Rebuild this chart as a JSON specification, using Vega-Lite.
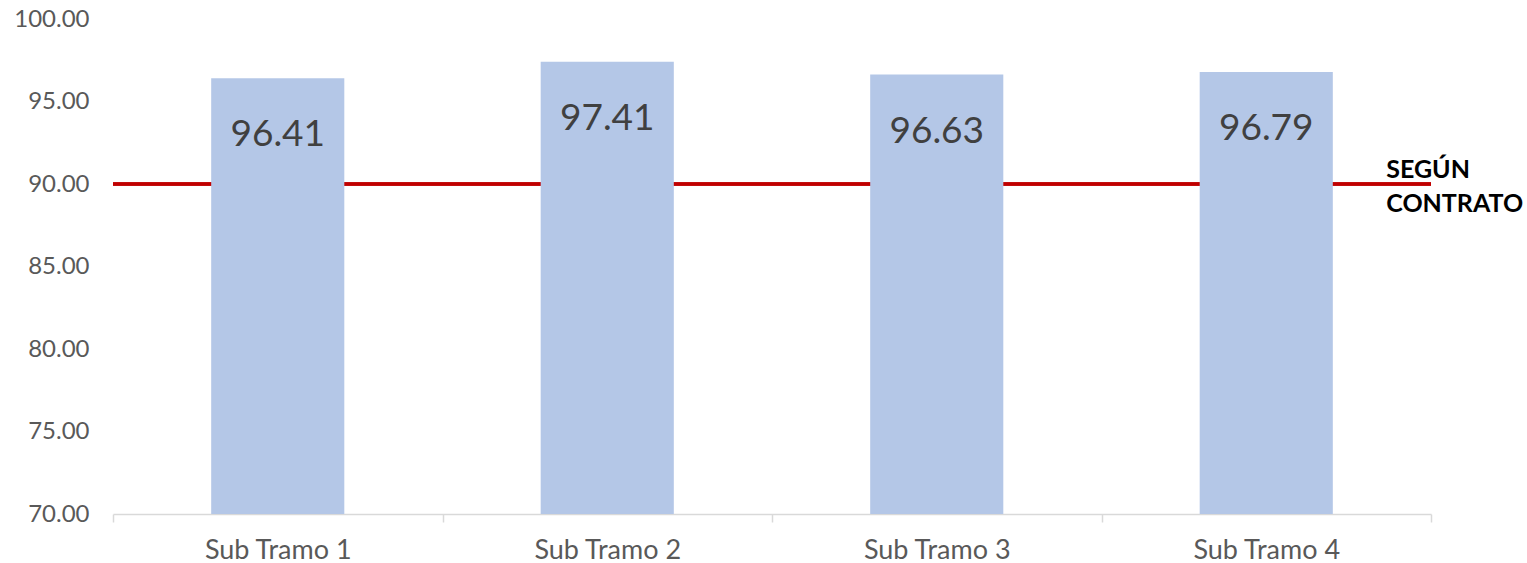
{
  "$schema": "https://vega.github.io/schema/vega-lite/v6.json",
  "autosize": "none",
  "width": 1318,
  "height": 495,
  "padding": {"left": 113, "top": 19, "right": 96, "bottom": 49},
  "background": "white",
  "config": {"view": {"stroke": null}, "font": "Lato"},
  "data": {"values": [
    {"tramo": "Sub Tramo 1", "valor": 96.41},
    {"tramo": "Sub Tramo 2", "valor": 97.41},
    {"tramo": "Sub Tramo 3", "valor": 96.63},
    {"tramo": "Sub Tramo 4", "valor": 96.79}
  ]},
  "encoding": {
    "x": {"field": "tramo", "type": "nominal", "sort": null,
      "scale": {"paddingInner": 0, "paddingOuter": 0},
      "axis": {"title": null, "labelAngle": 0, "labelFontSize": 27, "labelColor": "#595959", "labelFont": "Lato",
        "domainColor": "#d9d9d9", "domainWidth": 1.5, "tickColor": "#d9d9d9", "tickWidth": 1.5, "tickSize": 8, "tickBand": "extent", "labelPadding": 15, "grid": false}}
  },
  "layer": [
    {
      "mark": {"type": "rule", "color": "#c00000", "strokeWidth": 3},
      "encoding": {"x": null, "y": {"datum": 90, "type": "quantitative"}}
    },
    {
      "mark": {"type": "bar", "color": "#b4c7e7", "clip": true, "width": {"band": 0.404}},
      "encoding": {
        "y": {"field": "valor", "type": "quantitative",
          "scale": {"domain": [70, 100], "nice": false, "zero": false},
          "axis": {"title": null, "values": [70, 75, 80, 85, 90, 95, 100], "format": ".2f",
            "labelFontSize": 24, "labelColor": "#595959", "labelFont": "Lato", "labelPadding": 24,
            "domain": false, "ticks": false, "gridColor": "#d9d9d9", "gridWidth": 1.5}},
        "y2": {"datum": 70}
      }
    },
    {
      "mark": {"type": "text", "fontSize": 37, "color": "#404040", "baseline": "middle", "dy": 57, "font": "Lato"},
      "encoding": {
        "y": {"field": "valor", "type": "quantitative"},
        "text": {"field": "valor", "type": "quantitative", "format": ".2f"}
      }
    },
    {
      "data": {"values": [{"tramo": "Sub Tramo 4", "v": 90, "label": ["SEGÚN", "CONTRATO"]}]},
      "mark": {"type": "text", "fontSize": 25, "fontWeight": "bold", "color": "#000000", "align": "left", "baseline": "middle", "dx": 120, "dy": -14, "lineHeight": 34, "font": "Lato"},
      "encoding": {
        "x": {"field": "tramo", "type": "nominal"},
        "y": {"field": "v", "type": "quantitative"},
        "text": {"field": "label"}
      }
    }
  ]
}
